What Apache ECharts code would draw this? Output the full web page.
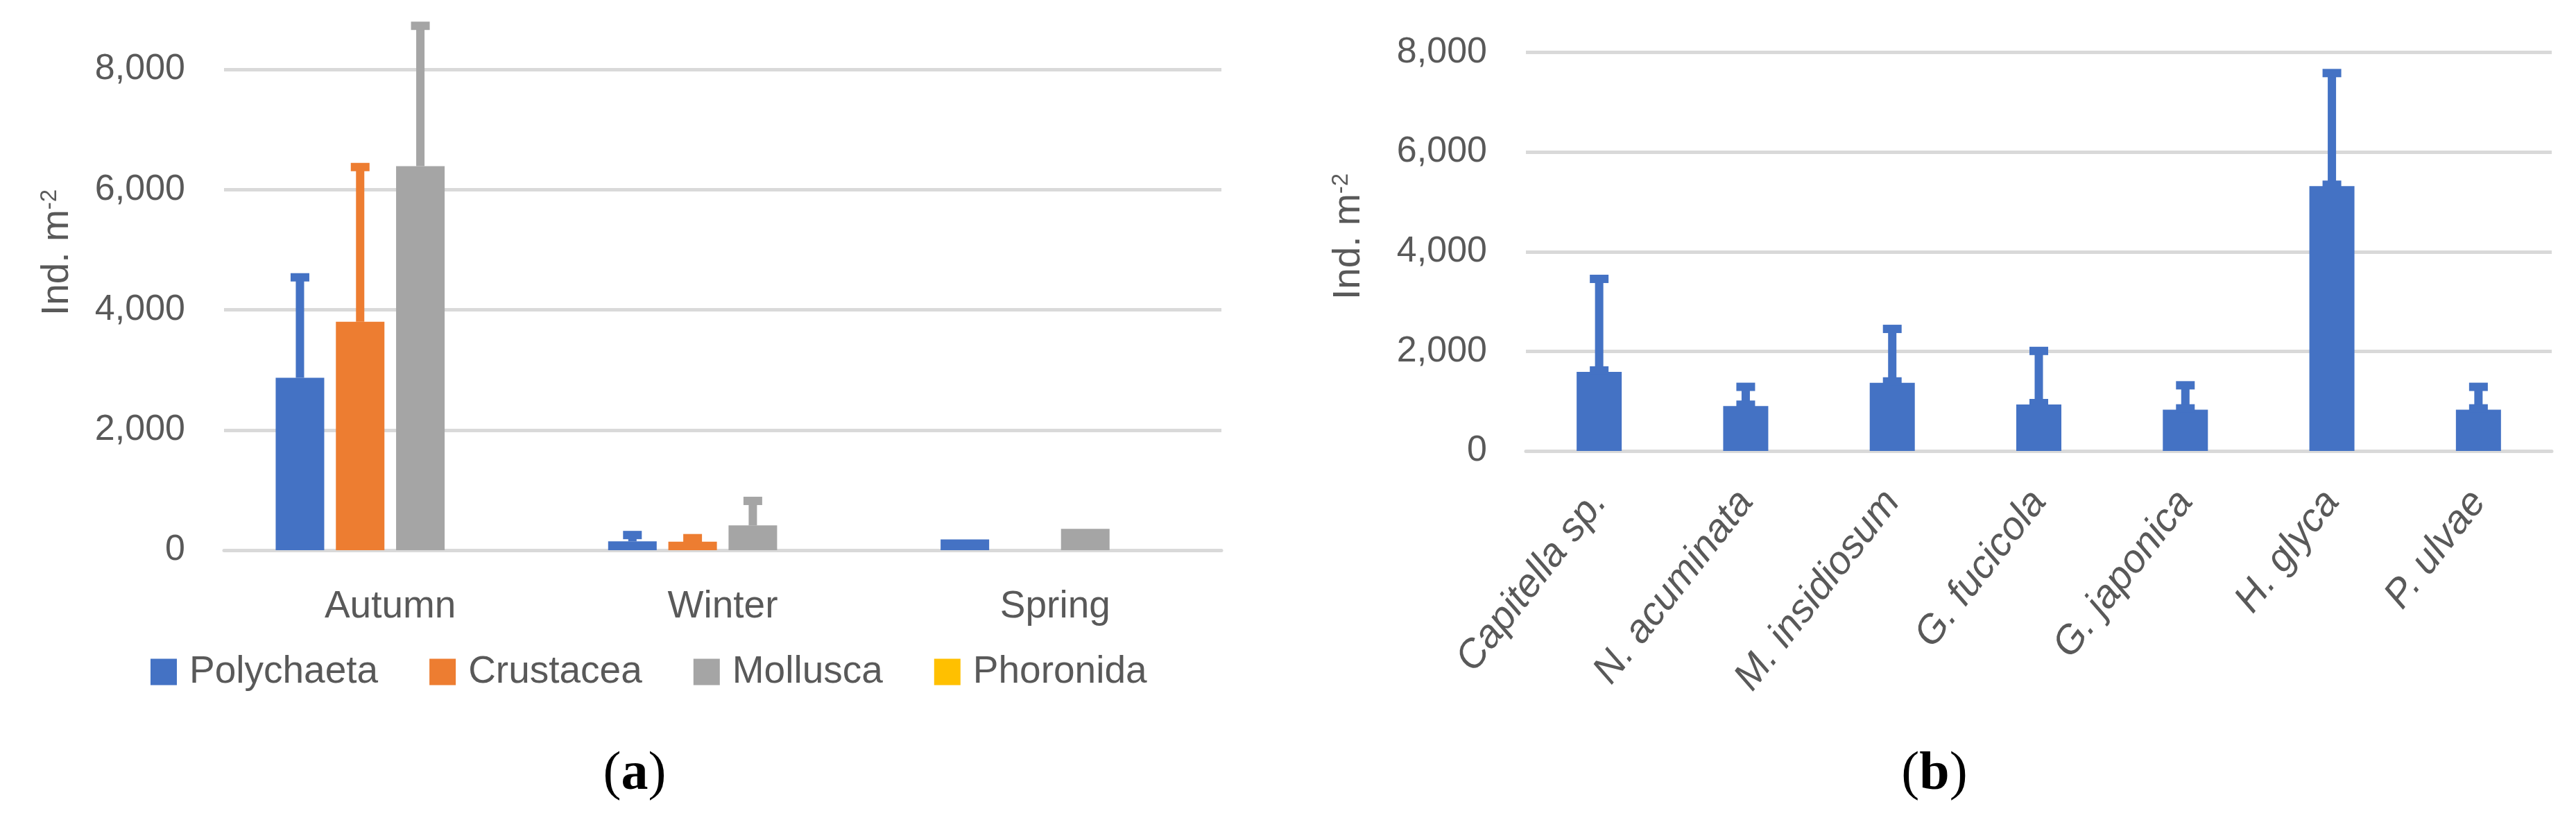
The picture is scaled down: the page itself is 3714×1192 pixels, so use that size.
<!DOCTYPE html>
<html>
<head>
<meta charset="utf-8">
<script src="https://cdn.jsdelivr.net/npm/echarts@6/dist/echarts.min.js"></script>
<style>
html, body { margin: 0; padding: 0; background: #fff; }
#chart { width: 3714px; height: 1192px; }
</style>
</head>
<body>
<div id="chart"></div>
<script>
// (a) abundance of the main groups by season
var seasons = ["Autumn", "Winter", "Spring"];
var groupNames = ["Polychaeta", "Crustacea", "Mollusca", "Phoronida"];
var polychaeta = [2870, 147, 178];
var crustacea = [3800, 140, 0];
var mollusca = [6390, 412, 354];
var phoronida = [0, 0, 0];
// standard deviation (only the upper bar is drawn)
var polychaetaSd = [1670, 105, null];
var crustaceaSd = [2575, 60, null];
var molluscaSd = [2335, 408, null];

// (b) dominant polychaete species
var species = ["Capitella sp.", "N. acuminata", "M. insidiosum", "G. fucicola", "G. japonica", "H. glyca", "P. ulvae"];
var speciesMean = [1588, 901, 1368, 933, 827, 5316, 827];
var speciesSd = [1866, 386, 1082, 1075, 491, 2269, 460];

var yMax = 8000;
var yStep = 2000;

var colors = ["#4472C4", "#ED7D31", "#A5A5A5", "#FFC000"];
var textColor = "#595959";
var gridColor = "#D9D9D9";
var font = "'Liberation Sans', Arial, sans-serif";

var chart = echarts.init(document.getElementById("chart"));

// error bar: whisker from mean to mean+sd with a square cap
function errorBars(idx, means, sds, color, offset, lowerCap) {
  var data = [];
  means.forEach(function (m, i) {
    if (sds[i] != null) data.push([i, m, m + sds[i]]);
  });
  return {
    type: "custom",
    xAxisIndex: idx,
    yAxisIndex: idx,
    z: 5,
    silent: true,
    clip: false,
    data: data,
    encode: { x: 0, y: [1, 2] },
    renderItem: function (params, api) {
      var lo = api.coord([api.value(0), api.value(1)]);
      var hi = api.coord([api.value(0), api.value(2)]);
      var x = lo[0] + offset;
      var kids = [
        { type: "rect", shape: { x: x - 6, y: hi[1], width: 12, height: lo[1] - hi[1] }, style: { fill: color } },
        { type: "rect", shape: { x: x - 13.5, y: hi[1] - 6, width: 27, height: 12 }, style: { fill: color } }
      ];
      if (lowerCap) {
        kids.push({ type: "rect", shape: { x: x - 13.5, y: lo[1] - 8, width: 27, height: 12 }, style: { fill: color } });
      }
      return { type: "group", children: kids };
    }
  };
}

function valueAxis(idx) {
  return {
    type: "value",
    gridIndex: idx,
    min: 0,
    max: yMax,
    interval: yStep,
    axisLine: { show: false },
    axisTick: { show: false },
    axisLabel: {
      color: textColor,
      fontFamily: font,
      fontSize: 52,
      margin: 56,
      formatter: function (v) { return v.toLocaleString("en-US"); }
    },
    splitLine: { lineStyle: { color: gridColor, width: 5 } }
  };
}

function yTitle(x, y) {
  return {
    type: "text",
    x: x,
    y: y,
    rotation: Math.PI / 2,
    style: {
      text: "{m|Ind. m}{s|-2}",
      align: "center",
      verticalAlign: "middle",
      rich: {
        m: { fontSize: 55, fontFamily: font, fill: textColor },
        s: { fontSize: 33, fontFamily: font, fill: textColor, verticalAlign: "top" }
      }
    }
  };
}

function panelLabel(x, y, letter) {
  return {
    type: "text",
    x: x,
    y: y,
    style: {
      text: "{p|(}{b|" + letter + "}{p|)}",
      align: "center",
      verticalAlign: "middle",
      rich: {
        p: { fontSize: 78, fontFamily: "'Liberation Serif', serif", fill: "#000" },
        b: { fontSize: 78, fontFamily: "'Liberation Serif', serif", fontWeight: "bold", fill: "#000" }
      }
    }
  };
}

var slot = 70 * 1.24; // bar width + gap in panel (a)

chart.setOption({
  animation: false,
  backgroundColor: "#fff",
  grid: [
    { left: 323, right: 1953, top: 100, bottom: 399, outerBoundsMode: "none" },
    { left: 2200, right: 35, top: 75.5, bottom: 542, outerBoundsMode: "none" }
  ],
  legend: {
    data: groupNames,
    left: 212,
    top: 936,
    icon: "rect",
    itemWidth: 38,
    itemHeight: 38,
    itemGap: 74,
    textStyle: { color: textColor, fontFamily: font, fontSize: 55, padding: [0, 0, 0, 13] }
  },
  xAxis: [
    {
      type: "category",
      gridIndex: 0,
      data: seasons,
      axisLine: { show: true, lineStyle: { color: gridColor, width: 5 } },
      axisTick: { show: false },
      axisLabel: { color: textColor, fontFamily: font, fontSize: 55, margin: 54 }
    },
    {
      type: "category",
      gridIndex: 1,
      data: species,
      axisLine: { show: true, lineStyle: { color: gridColor, width: 5 } },
      axisTick: { show: false },
      axisLabel: {
        color: textColor, fontFamily: font, fontSize: 57, fontStyle: "italic",
        rotate: 52, margin: 64, interval: 0
      }
    }
  ],
  yAxis: [valueAxis(0), valueAxis(1)],
  series: [
    { name: groupNames[0], type: "bar", xAxisIndex: 0, yAxisIndex: 0, data: polychaeta, barWidth: 70, barGap: "24%", itemStyle: { color: colors[0] } },
    { name: groupNames[1], type: "bar", xAxisIndex: 0, yAxisIndex: 0, data: crustacea, barWidth: 70, barGap: "24%", itemStyle: { color: colors[1] } },
    { name: groupNames[2], type: "bar", xAxisIndex: 0, yAxisIndex: 0, data: mollusca, barWidth: 70, barGap: "24%", itemStyle: { color: colors[2] } },
    { name: groupNames[3], type: "bar", xAxisIndex: 0, yAxisIndex: 0, data: phoronida, barWidth: 70, barGap: "24%", itemStyle: { color: colors[3] } },
    errorBars(0, polychaeta, polychaetaSd, colors[0], -1.5 * slot, false),
    errorBars(0, crustacea, crustaceaSd, colors[1], -0.5 * slot, false),
    errorBars(0, mollusca, molluscaSd, colors[2], 0.5 * slot, false),
    { name: "Species", type: "bar", xAxisIndex: 1, yAxisIndex: 1, data: speciesMean, barWidth: 65, itemStyle: { color: colors[0] } },
    errorBars(1, speciesMean, speciesSd, colors[0], 0, true)
  ],
  graphic: [
    yTitle(83, 364),
    yTitle(1945, 341),
    panelLabel(915, 1117, "a"),
    panelLabel(2789, 1117, "b")
  ]
});
</script>
</body>
</html>
